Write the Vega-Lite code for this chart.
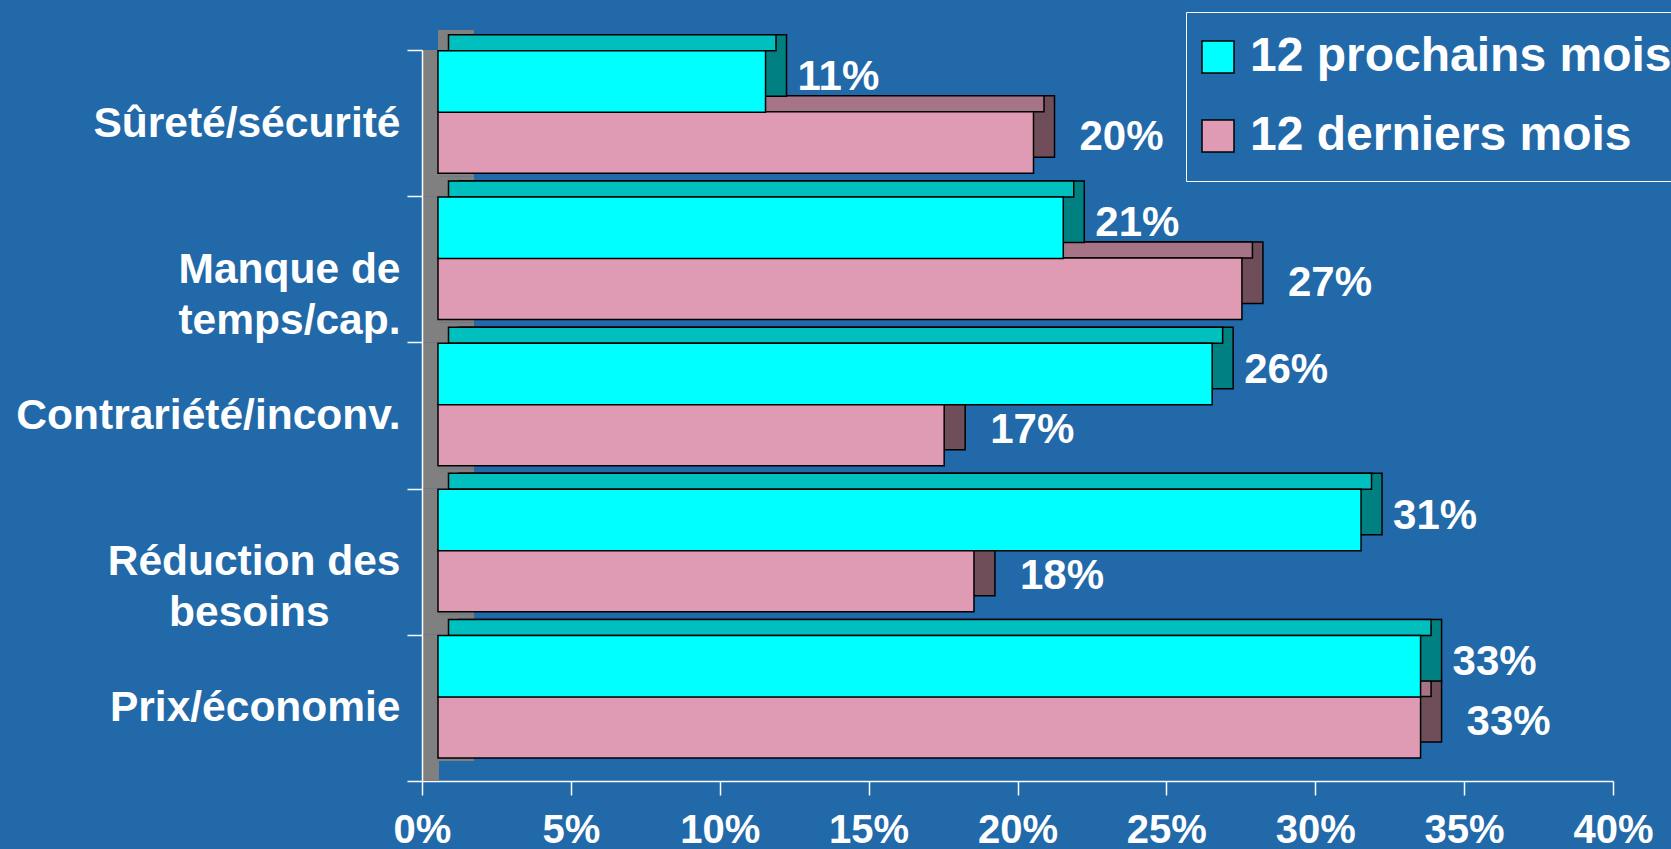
{
  "$schema": "https://vega.github.io/schema/vega-lite/v6.json",
  "autosize": "none",
  "padding": {"left": 422, "top": 50, "right": 58, "bottom": 68},
  "width": 1191,
  "height": 731,
  "background": "#2169a9",
  "data": {
    "values": [
      {"cat": "Sûreté/sécurité", "series": "12 prochains mois", "v": 11},
      {"cat": "Sûreté/sécurité", "series": "12 derniers mois", "v": 20},
      {"cat": "Manque de temps/cap.", "series": "12 prochains mois", "v": 21},
      {"cat": "Manque de temps/cap.", "series": "12 derniers mois", "v": 27},
      {"cat": "Contrariété/inconv.", "series": "12 prochains mois", "v": 26},
      {"cat": "Contrariété/inconv.", "series": "12 derniers mois", "v": 17},
      {"cat": "Réduction des besoins", "series": "12 prochains mois", "v": 31},
      {"cat": "Réduction des besoins", "series": "12 derniers mois", "v": 18},
      {"cat": "Prix/économie", "series": "12 prochains mois", "v": 33},
      {"cat": "Prix/économie", "series": "12 derniers mois", "v": 33}
    ]
  },
  "transform": [{"calculate": "datum.v + '%'", "as": "lbl"}],
  "encoding": {
    "x": {
      "field": "v",
      "type": "quantitative",
      "scale": {"domain": [0, 40], "nice": false, "zero": true},
      "axis": {
        "title": null,
        "orient": "bottom",
        "values": [0, 5, 10, 15, 20, 25, 30, 35, 40],
        "grid": false,
        "labelExpr": "datum.value + '%'",
        "labelFlush": false,
        "labelOverlap": false,
        "tickSize": 14,
        "tickWidth": 1.5,
        "tickColor": "white",
        "domainColor": "white",
        "domainWidth": 1.5,
        "labelColor": "white",
        "labelFont": "Liberation Sans",
        "labelFontWeight": "bold",
        "labelFontSize": 40,
        "labelPadding": 15
      }
    },
    "y": {
      "field": "cat",
      "type": "nominal",
      "sort": ["Sûreté/sécurité", "Manque de temps/cap.", "Contrariété/inconv.", "Réduction des besoins", "Prix/économie"],
      "scale": {"paddingInner": 0, "paddingOuter": 0},
      "axis": {
        "title": null,
        "orient": "left",
        "zindex": 1,
        "tickBand": "extent",
        "tickSize": 15,
        "tickWidth": 1.5,
        "tickColor": "white",
        "domainColor": "white",
        "domainWidth": 1.5,
        "labelColor": "white",
        "labelFont": "Liberation Sans",
        "labelFontWeight": "bold",
        "labelFontSize": 42.5,
        "labelLineHeight": 51,
        "labelPadding": 7,
        "labelLimit": 0,
        "labelExpr": "datum.value == 'Manque de temps/cap.' ? ['Manque de', 'temps/cap.'] : datum.value == 'Réduction des besoins' ? ['Réduction des', 'besoins\u00a0\u00a0\u00a0\u00a0\u00a0\u00a0\u200b'] : datum.label"
      }
    }
  },
  "layer": [
    {
      "transform": [{"filter": "datum.series == '12 prochains mois'"}],
      "mark": {"type": "bar", "color": "#808080", "xOffset": 16, "x2Offset": 52, "yOffset": -20},
      "encoding": {
        "x": {"datum": 0, "type": "quantitative"},
        "x2": {"datum": 0}
      }
    },
    {
      "transform": [{"filter": "datum.series == '12 prochains mois'"}],
      "mark": {"type": "bar", "color": "#808080", "x2Offset": 17},
      "encoding": {
        "x": {"datum": 0, "type": "quantitative"},
        "x2": {"datum": 0}
      }
    },
    {
      "transform": [{"filter": "datum.series == '12 derniers mois'"}],
      "mark": {"type": "bar", "color": "#6f4e5a", "stroke": "black", "strokeWidth": 1.5, "size": 61.5, "xOffset": 37, "x2Offset": 37, "yOffset": 3.4},
      "encoding": {"x2": {"datum": 0}}
    },
    {
      "transform": [{"filter": "datum.series == '12 derniers mois'"}],
      "mark": {"type": "bar", "color": "#a67486", "stroke": "black", "strokeWidth": 1.5, "size": 16, "xOffset": 26.5, "x2Offset": 26.5, "yOffset": -19.35},
      "encoding": {"x2": {"datum": 0}}
    },
    {
      "transform": [{"filter": "datum.series == '12 derniers mois'"}],
      "mark": {"type": "bar", "stroke": "black", "strokeWidth": 1.5, "size": 61.5, "xOffset": 16, "x2Offset": 16, "yOffset": 19.4, "opacity": 1},
      "encoding": {
        "x2": {"datum": 0},
        "color": {
          "field": "series",
          "type": "nominal",
          "scale": {"domain": ["12 prochains mois", "12 derniers mois"], "range": ["#00ffff", "#de9bb3"]},
          "legend": {
            "title": null,
            "orient": "none",
            "legendX": 764,
            "legendY": -38,
            "direction": "vertical",
            "symbolType": "square",
            "symbolSize": 1024,
            "symbolStrokeColor": "black",
            "symbolStrokeWidth": 1.5,
            "symbolOpacity": 1,
            "symbolOffset": -13,
            "labelFont": "Liberation Sans",
            "labelFontWeight": "bold",
            "labelFontSize": 48,
            "labelColor": "white",
            "labelLimit": 0,
            "labelOffset": 8,
            "rowPadding": 31,
            "padding": 21,
            "strokeColor": "white"
          }
        }
      }
    },
    {
      "transform": [{"filter": "datum.series == '12 prochains mois'"}],
      "mark": {"type": "bar", "color": "#008080", "stroke": "black", "strokeWidth": 1.5, "size": 61.5, "xOffset": 37, "x2Offset": 37, "yOffset": -57.6},
      "encoding": {"x2": {"datum": 0}}
    },
    {
      "transform": [{"filter": "datum.series == '12 prochains mois'"}],
      "mark": {"type": "bar", "color": "#00bfbf", "stroke": "black", "strokeWidth": 1.5, "size": 16, "xOffset": 26.5, "x2Offset": 26.5, "yOffset": -80.35},
      "encoding": {"x2": {"datum": 0}}
    },
    {
      "transform": [{"filter": "datum.series == '12 prochains mois'"}],
      "mark": {"type": "bar", "stroke": "black", "strokeWidth": 1.5, "size": 61.5, "xOffset": 16, "x2Offset": 16, "yOffset": -41.6, "opacity": 1},
      "encoding": {
        "x2": {"datum": 0},
        "color": {"field": "series", "type": "nominal"}
      }
    },
    {
      "transform": [{"filter": "datum.series == '12 derniers mois'"}],
      "mark": {"type": "text", "align": "left", "baseline": "middle", "dx": 62, "yOffset": 14, "font": "Liberation Sans", "fontWeight": "bold", "fontSize": 42, "color": "white"},
      "encoding": {
        "text": {"field": "lbl", "type": "nominal"}
      }
    },
    {
      "transform": [{"filter": "datum.series == '12 prochains mois'"}],
      "mark": {"type": "text", "align": "left", "baseline": "middle", "dx": 48, "yOffset": -46, "font": "Liberation Sans", "fontWeight": "bold", "fontSize": 42, "color": "white"},
      "encoding": {
        "text": {"field": "lbl", "type": "nominal"}
      }
    }
  ],
  "config": {
    "view": {"stroke": null}
  }
}
